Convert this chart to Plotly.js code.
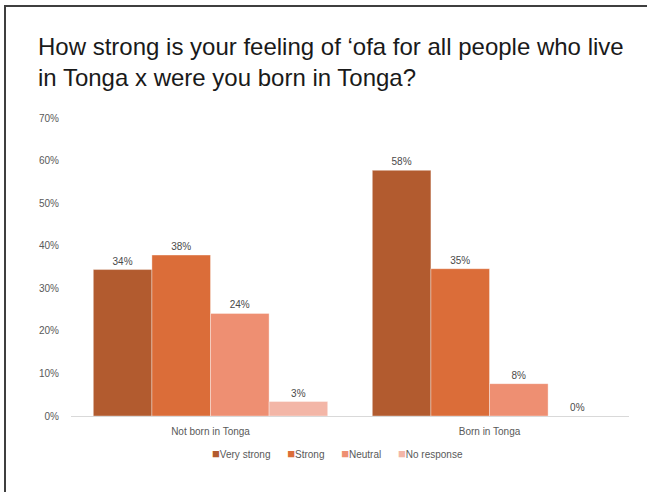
<!DOCTYPE html>
<html>
<head>
<meta charset="utf-8">
<script src="https://cdn.plot.ly/plotly-3.0.1.min.js"></script>
<style>
  html, body { margin: 0; padding: 0; background: #fff; }
  #wrap { position: relative; width: 647px; height: 492px; overflow: hidden; }
  #chart { position: absolute; left: 0; top: 0; width: 647px; height: 492px; }
  #bl { position: absolute; left: 4px; top: 5px; width: 2px; height: 487px; background: #3f3f3f; }
  #bt { position: absolute; left: 4px; top: 5px; width: 643px; height: 2px; background: #3f3f3f; }
</style>
</head>
<body>
<div id="wrap">
  <div id="chart"></div>
  <div id="bl"></div>
  <div id="bt"></div>
</div>
<script>
const categories = ["Not born in Tonga", "Born in Tonga"];
const seriesNames = ["Very strong", "Strong", "Neutral", "No response"];
const veryStrong = [0.344, 0.577];
const strong = [0.378, 0.346];
const neutral = [0.241, 0.076];
const noResponse = [0.034, 0.0];
const colors = ["#B25B2F", "#DB6D39", "#EE8F72", "#F3B6A7"];
const yTickVals = [0, 0.1, 0.2, 0.3, 0.4, 0.5, 0.6, 0.7];

const seriesValues = [veryStrong, strong, neutral, noResponse];
const traces = seriesValues.map((vals, i) => ({
  type: "bar",
  name: seriesNames[i],
  x: categories,
  y: vals,
  marker: { color: colors[i], line: { color: "rgba(255,255,255,0.6)", width: 0.6 } },
  text: vals.map(v => Math.round(v * 100) + "%"),
  textposition: "outside",
  textfont: { size: 10, color: "#4a4a4a" },
  cliponaxis: false,
  hoverinfo: "none",
  showlegend: false
}));

// custom legend text built from series names and colours
const legendText = seriesNames
  .map((n, i) => `<span style="color:${colors[i]};font-size:13px">■</span>${n}`)
  .join("&nbsp;&nbsp;&nbsp;&nbsp;&nbsp;&nbsp;");

const layout = {
  width: 647,
  height: 492,
  margin: { l: 71, r: 18, t: 118, b: 76 },
  paper_bgcolor: "#ffffff",
  plot_bgcolor: "#ffffff",
  font: { family: "Liberation Sans, Arial, sans-serif", color: "#595959" },
  title: {
    text: "How strong is your feeling of ‘ofa for all people who live<br>in Tonga x were you born in Tonga?",
    font: { size: 24, color: "#1a1a1a", family: "Liberation Sans, Arial, sans-serif" },
    xref: "container", yref: "container",
    x: 38 / 647, xanchor: "left",
    y: 1 - 55 / 492, yanchor: "top"
  },
  barmode: "group",
  bargap: 0.16,
  bargroupgap: 0,
  xaxis: {
    type: "category",
    showgrid: false,
    showline: false,
    ticks: "",
    ticklabelstandoff: 8,
    tickfont: { size: 10, color: "#595959" },
    fixedrange: true
  },
  yaxis: {
    range: [0, 0.7],
    tickvals: yTickVals,
    tickformat: ".0%",
    showgrid: false,
    zeroline: true,
    zerolinecolor: "#d9d9d9",
    zerolinewidth: 1,
    showline: false,
    ticks: "",
    ticklabelstandoff: 11,
    tickfont: { size: 10, color: "#595959" },
    fixedrange: true
  },
  annotations: [{
    text: legendText,
    xref: "paper", yref: "paper",
    x: 0.477, xanchor: "center",
    y: -0.1275, yanchor: "middle",
    showarrow: false,
    font: { size: 10, color: "#595959", family: "Liberation Sans, Arial, sans-serif" }
  }],
  showlegend: false
};

Plotly.newPlot("chart", traces, layout, { displayModeBar: false, staticPlot: true });
</script>
</body>
</html>
